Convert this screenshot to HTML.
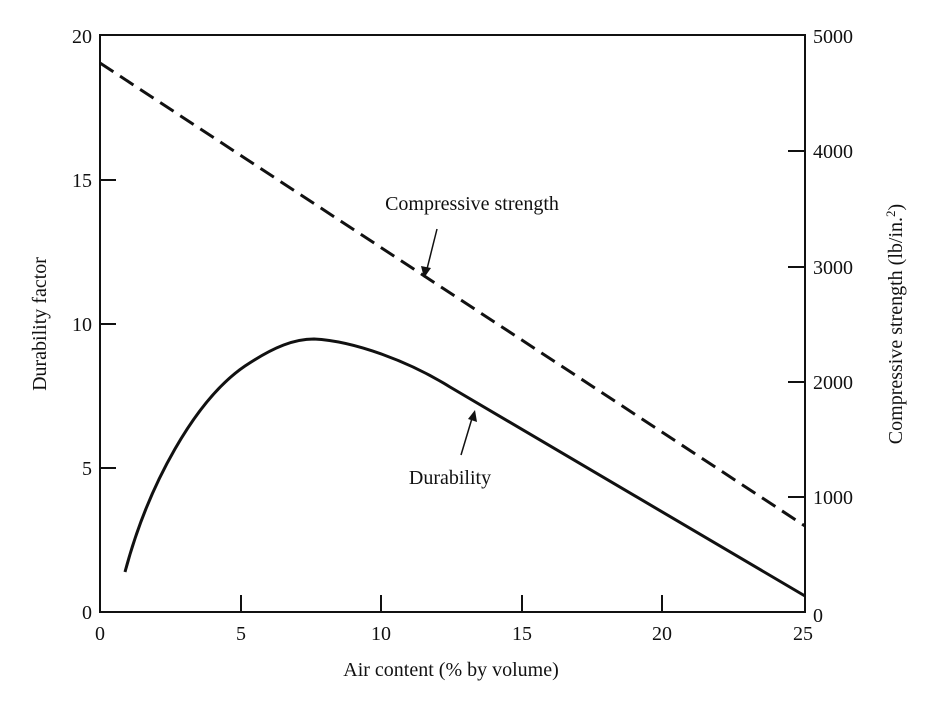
<!DOCTYPE html>
<html><head><style>body{margin:0;background:#fff}</style></head><body>
<svg width="934" height="700" xmlns="http://www.w3.org/2000/svg" font-family="Liberation Serif, serif" font-size="20" fill="#111">
<rect width="934" height="700" fill="#fff"/>
<g stroke="#111" stroke-width="2" fill="none">
<path d="M100,35 H805 V612 H100 Z"/>
<path d="M100,180 h16 M100,324 h16 M100,468 h16"/>
<path d="M241,612 v-17 M381,612 v-17 M522,612 v-17 M662,612 v-17"/>
<path d="M805,151 h-17 M805,267 h-17 M805,382 h-17 M805,497 h-17"/>
<path d="M100,63 L805,526" stroke-dasharray="16,8" stroke-width="3"/>
<path d="M125,572 C148,485 195,400 245,366 C275,346 295,339 314,339 C355,341 410,362 450,387 L805,596" stroke-width="3"/>
<path d="M437,229 L426,273" stroke-width="1.5"/>
<path d="M461,455 L473,415" stroke-width="1.5"/>
</g>
<path d="M424,278 L421,266 L431,268 Z" fill="#111"/>
<path d="M475,410 L477,422 L468,419 Z" fill="#111"/>
<g text-anchor="end">
<text x="92" y="43">20</text><text x="92" y="187">15</text><text x="92" y="331">10</text><text x="92" y="475">5</text><text x="92" y="619">0</text>
</g>
<g text-anchor="middle">
<text x="100" y="640">0</text><text x="241" y="640">5</text><text x="381" y="640">10</text><text x="522" y="640">15</text><text x="662" y="640">20</text><text x="803" y="640">25</text>
<text x="451" y="676">Air content (% by volume)</text>
<text x="472" y="210">Compressive strength</text>
<text x="450" y="484">Durability</text>
</g>
<g>
<text x="813" y="43">5000</text><text x="813" y="158">4000</text><text x="813" y="274">3000</text><text x="813" y="389">2000</text><text x="813" y="504">1000</text><text x="813" y="622">0</text>
</g>
<text transform="translate(46,324) rotate(-90)" text-anchor="middle">Durability factor</text>
<text transform="translate(902,324) rotate(-90)" text-anchor="middle">Compressive strength (lb/in.<tspan dy="-7" font-size="13">2</tspan><tspan dy="7">)</tspan></text>
</svg>
</body></html>
